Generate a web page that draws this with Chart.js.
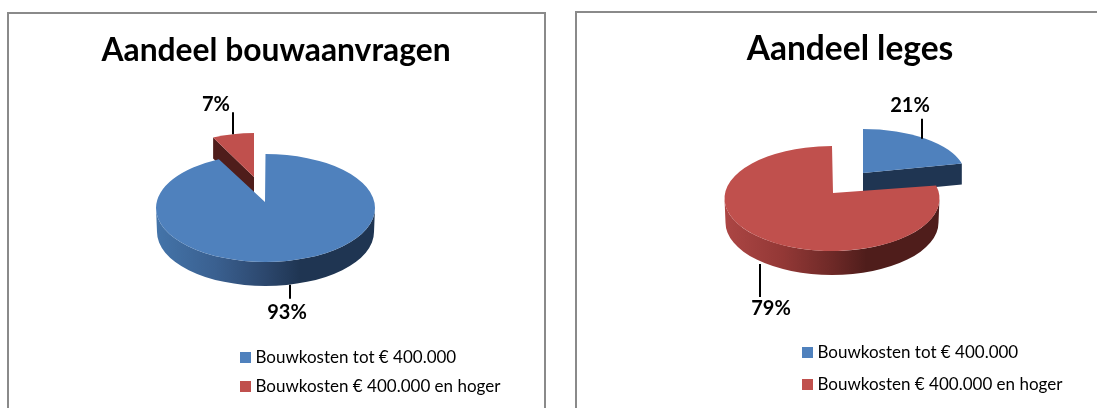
<!DOCTYPE html>
<html lang="nl">
<head>
<meta charset="utf-8">
<script src="https://cdn.jsdelivr.net/npm/chart.js@4"></script>
<style>
html,body{margin:0;padding:0;background:#fff;overflow:hidden;width:1097px;height:408px}
.panel{position:absolute;box-sizing:border-box;border:2px solid #8a8a8a;height:430px}
#p1{left:7px;top:12px;width:539px}
#p2{left:575px;top:11px;width:560px}
canvas{position:absolute}
#c1{left:9px;top:14px}
#c2{left:577px;top:13px}
</style>
</head>
<body>
<div class="panel" id="p1"></div>
<div class="panel" id="p2"></div>
<canvas id="c1" width="534" height="394"></canvas>
<canvas id="c2" width="546" height="395"></canvas>
<script>
const categories = ['Bouwkosten tot € 400.000', 'Bouwkosten € 400.000 en hoger'];
const bouwaanvragen = [93, 7];
const leges = [21, 79];
const titleLeft = 'Aandeel bouwaanvragen';
const titleRight = 'Aandeel leges';

const FONT = 'Lato, "Open Sans", sans-serif';
const TOP = ['#4F81BD', '#C0504D'];
const DARK = ['#1F3552', '#4F1D1B'];
const SIDE = [
  [[0,'#4474A9'],[.27,'#3A6090'],[.5,'#2C476D'],[.66,'#1F3552'],[1,'#1F3552']],
  [[0,'#AC4644'],[.27,'#933836'],[.5,'#6E2927'],[.66,'#4F1D1B'],[1,'#4F1D1B']]
];

function swatch(color){
  const c = document.createElement('canvas');
  c.width = 11; c.height = 11;
  const x = c.getContext('2d');
  x.fillStyle = color; x.fillRect(0,0,11,11);
  return c;
}

const pie3d = {
  id: 'pie3d',
  afterLayout(chart, args, o){
    const R = o.radius, cx = o.cx, cy = o.cy;
    chart.chartArea = {left:cx-R, right:cx+R, top:cy-R, bottom:cy+R, width:2*R, height:2*R};
    const l = chart.legend, w = 300;
    l.left = o.legendX; l.right = o.legendX + w; l.top = o.legendY; l.bottom = o.legendY + 70; l.width = w;
  },
  beforeDatasetDraw(){ return false; },
  beforeDatasetsDraw(chart, args, o){
    const ctx = chart.ctx, meta = chart.getDatasetMeta(0);
    const parts = meta.data.map((arc,i)=>{
      const p = o.poses[i];
      const ex = arc.x + p.dx, ey = arc.y + p.dy;
      const rx = arc.outerRadius * p.scale, ry = rx * p.k;
      return {i,arc,p,ex,ey,rx,ry,a0:arc.startAngle,a1:arc.endAngle,val:chart.data.datasets[0].data[i]};
    }).sort((a,b)=>a.val-b.val);
    for(const s of parts){
      const {i,p,ex,ey,rx,ry,a0,a1} = s;
      const ax = ex + p.ax, ay = ey + p.ay, d = p.depth;
      const edge = (a)=>{
        ctx.beginPath();
        const x = ex+rx*Math.cos(a), y = ey+ry*Math.sin(a);
        ctx.moveTo(ax,ay); ctx.lineTo(x,y); ctx.lineTo(x,y+d); ctx.lineTo(ax,ay+d); ctx.closePath();
        ctx.fillStyle = DARK[i]; ctx.fill();
      };
      if(-Math.cos(a0) > 1e-6) edge(a0);
      if(Math.cos(a1) > 1e-6) edge(a1);
      const from = Math.max(a0,0), to = Math.min(a1,Math.PI);
      if(to > from){
        const g = ctx.createLinearGradient(ex-rx,0,ex+rx,0);
        SIDE[i].forEach(st=>g.addColorStop(st[0],st[1]));
        ctx.beginPath();
        ctx.ellipse(ex,ey,rx,ry,0,from,to);
        ctx.ellipse(ex,ey+d,rx-1,ry,0,to,from,true);
        ctx.closePath();
        ctx.fillStyle = g; ctx.fill();
      }
      ctx.beginPath();
      ctx.moveTo(ax,ay);
      ctx.ellipse(ex,ey,rx,ry,0,a0,a1);
      ctx.closePath();
      ctx.fillStyle = TOP[i]; ctx.fill();
    }
    ctx.save();
    ctx.font = 'bold 20px '+FONT;
    ctx.textAlign = 'center'; ctx.textBaseline = 'middle';
    ctx.strokeStyle = '#000'; ctx.fillStyle = '#000'; ctx.lineWidth = 2;
    for(const s of parts){
      const {p,ex,ey,rx,ry,a0,a1} = s, m = (a0+a1)/2, L = p.label;
      const sin = Math.sin(m);
      const x = Math.round(ex + rx*Math.cos(m) + L.dx);
      const y0 = ey + ry*sin + (sin>0 ? p.depth : 0);
      const y1 = y0 + L.len;
      ctx.beginPath(); ctx.moveTo(x,y0); ctx.lineTo(x,y1); ctx.stroke();
      ctx.fillText(s.val+'%', x+L.tx, y1+L.ty);
    }
    ctx.restore();
  }
};

function make(id, title, values, o, rowGap){
  return new Chart(document.getElementById(id), {
    type:'pie',
    data:{labels:categories, datasets:[{data:values, backgroundColor:TOP, borderWidth:0}]},
    plugins:[pie3d],
    options:{
      responsive:false, animation:false,
      layout:{padding:0},
      plugins:{
        tooltip:{enabled:false},
        title:{display:true, text:title, color:'#000', font:{family:FONT, size:o.titleSize, weight:'bold'}, padding:{top:o.titleTop,bottom:0}},
        legend:{
          display:true, position:'bottom', align:'start', maxWidth:300,
          labels:{
            color:'#111', font:{family:FONT,size:o.legendSize}, padding:rowGap, usePointStyle:true, pointStyleWidth:3,
            generateLabels(chart){
              return categories.map((t,i)=>({text:t, fillStyle:TOP[i], strokeStyle:TOP[i], lineWidth:0, pointStyle:swatch(TOP[i]), index:i, hidden:false}));
            }
          }
        },
        pie3d:o
      }
    }
  });
}

make('c1', titleLeft, bouwaanvragen, {
  cx:256.5, cy:194, radius:109.5, titleSize:31.8, titleTop:18, legendSize:17, legendX:223, legendY:323,
  poses:[
    {dx:0,dy:0,scale:1,k:.493,ax:-.5,ay:-6,depth:24,label:{dx:1,len:14,tx:-3,ty:14}},
    {dx:-11.5,dy:-27,scale:.877,k:.5,ax:0,ay:-4,depth:21,label:{dx:0,len:-22,tx:-17,ty:-8}}
  ]
}, 12);
make('c2', titleRight, leges, {
  cx:255, cy:185.5, radius:107.5, titleSize:33.5, titleTop:16, legendSize:17, legendX:214, legendY:316,
  poses:[
    {dx:31,dy:-23.5,scale:.949,k:.451,ax:0,ay:-2,depth:21,label:{dx:-4,len:-20,tx:-12,ty:-13}},
    {dx:0,dy:0,scale:1,k:.488,ax:1,ay:-5.5,depth:24,label:{dx:-6,len:33,tx:11,ty:12}}
  ]
}, 15);
</script>
</body>
</html>
